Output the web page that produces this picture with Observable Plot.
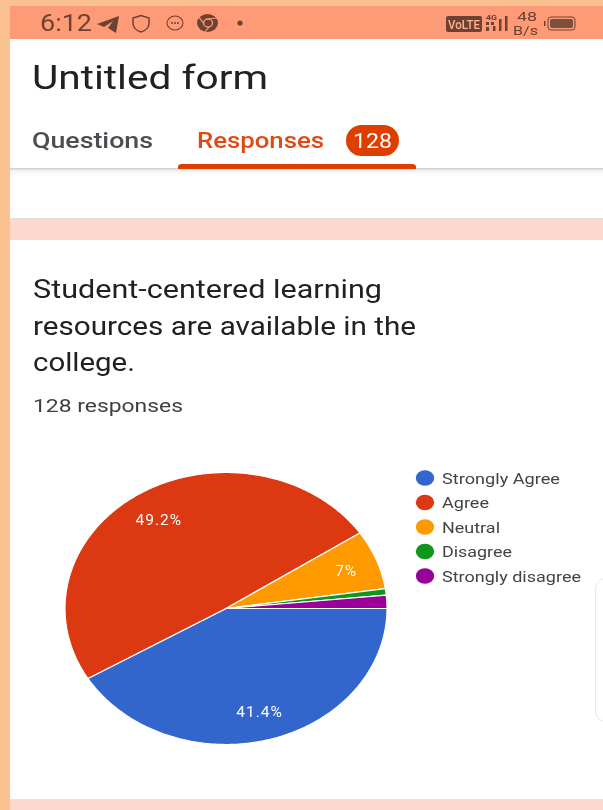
<!DOCTYPE html>
<html><head><meta charset="utf-8">
<script src="https://cdn.jsdelivr.net/npm/d3@7"></script>
<script src="https://cdn.jsdelivr.net/npm/@observablehq/plot@0.6"></script>
<style>
html,body{margin:0;padding:0;background:#fcc190;overflow:hidden}
#page{position:relative;width:603px;height:810px;overflow:hidden;background:#fcc190}
#page>div.b{position:absolute}
#chrome,#pie{position:absolute;left:0;top:0}
#pie svg{background:transparent;display:block;filter:blur(.3px)}
#pie text{letter-spacing:1px}
text{font-family:Roboto,sans-serif}
#chrome{filter:blur(.5px)}
</style></head><body><div id="page">
<div class="b" style="left:10px;top:6px;width:593px;height:33px;background:#ff9a76"></div>
<div class="b" style="left:10px;top:39px;width:593px;height:771px;background:#fff"></div>
<div class="b" style="left:10px;top:168px;width:593px;height:8px;background:linear-gradient(#ccc,#f4f4f4 35%,#fff)"></div>
<div class="b" style="left:10px;top:218px;width:593px;height:22px;background:#fdd8cc;border-top:1px solid #e2dedd;border-bottom:1px solid #e2e0e4;box-sizing:border-box"></div>
<div class="b" style="left:10px;top:799px;width:593px;height:11px;background:#fdd8cc;border-top:1px solid #eee2de;box-sizing:border-box"></div>
<div class="b" style="left:595px;top:578px;width:30px;height:144px;border:1px solid #e6e6e6;border-radius:11px;box-sizing:border-box"></div>
<svg id="chrome" width="603" height="810"></svg>
<div id="pie"></div>
</div>
<script>
const categories = ["Strongly Agree","Agree","Neutral","Disagree","Strongly disagree"];
const responses = [53,63,9,1,2];
const percentLabels = ["41.4%","49.2%","7%","",""];
const colors = ["#3366cc","#dc3912","#ff9900","#109618","#990099"];

const total = d3.sum(responses);
let acc = 0;
const wedges = [], labels = [];
responses.forEach((v,i)=>{
  const a0 = acc/total*2*Math.PI, a1 = (acc+v)/total*2*Math.PI; acc += v;
  const steps = Math.max(2, Math.ceil((a1-a0)*60));
  wedges.push({name:categories[i],px:0,py:0});
  for(let s=0;s<=steps;s++){
    const a = a0+(a1-a0)*s/steps;
    wedges.push({name:categories[i],px:Math.cos(a),py:-Math.sin(a)});
  }
  wedges.push({name:categories[i],px:0,py:0});
  if(percentLabels[i]){
    const m=(a0+a1)/2, r = v/total<.1 ? .8 : .78;
    labels.push({t:percentLabels[i],px:r*Math.cos(m),py:-r*Math.sin(m)});
  }
});

const plot = Plot.plot({
  width:603,height:810,margin:0,
  style:{background:"transparent",overflow:"visible"},
  x:{domain:[-1,1],range:[64.5,386.5],axis:null},
  y:{domain:[-1,1],range:[744,472],axis:null},
  color:{domain:categories,range:colors},
  marks:[
    Plot.line(wedges,{x:"px",y:"py",z:"name",fill:"name",stroke:"#fff",strokeWidth:1.2,strokeLinejoin:"round"}),
    Plot.text(labels,{x:"px",y:"py",dy:1.5,text:"t",fill:"#fff",fontSize:15.5,fontFamily:"Roboto, sans-serif"})
  ]
});
document.getElementById("pie").appendChild(plot);

const svg = d3.select("#chrome");
function T(s,x,y,size,w,fill,weight){
  const t=svg.append("text").attr("x",x).attr("y",y).attr("font-size",size).attr("fill",fill).attr("font-weight",weight||400).text(s);
  if(w) t.attr("textLength",w).attr("lengthAdjust","spacingAndGlyphs");
  return t;
}
const brown="#6e4232", bar="#ff9a76";
T("6:12",40,31,24,52,brown,400);
// status icons
svg.append("path").attr("d","M97 24 L119 16 L116 33 L108 28 L113 21 L104 27 L104 27 Z").attr("fill",brown);
svg.append("path").attr("d","M133 18 L141 15.5 L149 18 L149 24 Q148 30 141 32 Q134 30 133 24 Z").attr("fill","none").attr("stroke",brown).attr("stroke-width",1.5);
svg.append("ellipse").attr("cx",175).attr("cy",23).attr("rx",8).attr("ry",7).attr("fill","none").attr("stroke",brown).attr("stroke-width",1.1);
svg.append("path").attr("d","M171 23h2M174 23h2M177 23h2").attr("stroke",brown).attr("stroke-width",1.4);
svg.append("ellipse").attr("cx",207.5).attr("cy",23).attr("rx",10.5).attr("ry",9).attr("fill",brown);
svg.append("ellipse").attr("cx",208).attr("cy",23).attr("rx",4.5).attr("ry",4).attr("fill","none").attr("stroke",bar).attr("stroke-width",1.3);
svg.append("path").attr("d","M208 19 L217 18 M204 24 L199 17 M209 27 L205 32").attr("stroke",bar).attr("stroke-width",1.2);
svg.append("circle").attr("cx",240).attr("cy",23).attr("r",2.6).attr("fill",brown);
svg.append("rect").attr("x",446).attr("y",16).attr("width",36).attr("height",16).attr("rx",2).attr("fill",brown);
T("VoLTE",448,29,12.5,32,"#ffb094",500);
T("4G",486,20,8,11,brown,700);
[[486,22,3,3],[491,22,3,3],[486,27,3,4]].forEach(r=>svg.append("rect").attr("x",r[0]).attr("y",r[1]).attr("width",r[2]).attr("height",r[3]).attr("fill",brown));
svg.append("rect").attr("x",493).attr("y",26).attr("width",2.5).attr("height",5).attr("fill",brown);
svg.append("rect").attr("x",499).attr("y",19).attr("width",2.5).attr("height",12).attr("fill",brown);
svg.append("rect").attr("x",505).attr("y",16).attr("width",2.5).attr("height",15).attr("fill",brown);
T("48",517,21,13,20,brown,400);
T("B/s",513,35,13,25,brown,400);
svg.append("rect").attr("x",544).attr("y",21).attr("width",1.5).attr("height",5).attr("fill",brown);
svg.append("rect").attr("x",548).attr("y",17).attr("width",27).attr("height",13).attr("rx",3).attr("fill","none").attr("stroke",brown).attr("stroke-width",1);
svg.append("rect").attr("x",550).attr("y",19).attr("width",23).attr("height",9).attr("rx",2).attr("fill","#7d4f3e");

T("Untitled form",32,89,33,236,"#202124");
T("Questions",32,148,22,121,"#4a4d52",500);
T("Responses",197,148,22,127,"#e14a12",500);
svg.append("rect").attr("x",346).attr("y",125).attr("width",53).attr("height",31).attr("rx",15.5).attr("fill","#de3e00");
T("128",353,148,21,39,"#fff");
svg.append("path").attr("d","M178 169 L178 167 Q178 164 182 164 L412 164 Q416 164 416 167 L416 169 Z").attr("fill","#de3e00");

T("Student-centered learning",33,298,26,349,"#202124");
T("resources are available in the",33,335,26,383,"#202124");
T("college.",33,371,26,102,"#202124");
T("128 responses",33,412,19,150,"#3c4043");

categories.forEach((c,i)=>{
  const y=478+i*24.5;
  svg.append("ellipse").attr("cx",425).attr("cy",y).attr("rx",9.2).attr("ry",7.7).attr("fill",colors[i]);
  const w=[118,47,58,70,139][i];
  T(c,442,y+5.5,15.5,w,"#444");
});
</script></body></html>
